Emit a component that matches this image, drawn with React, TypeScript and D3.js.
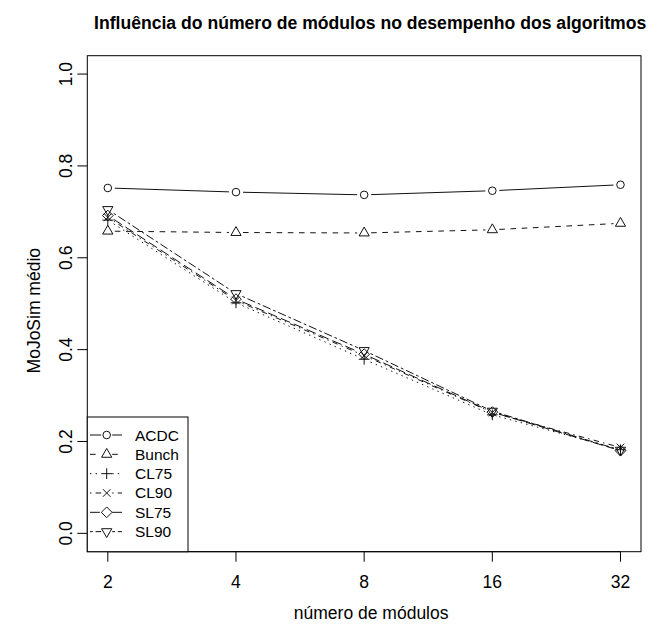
import React from "react";
import * as d3 from "d3";

const modules = [2, 4, 8, 16, 32];
const seriesNames = ["ACDC", "Bunch", "CL75", "CL90", "SL75", "SL90"];
const acdc = [0.752, 0.743, 0.737, 0.746, 0.759];
const bunch = [0.658, 0.655, 0.654, 0.661, 0.675];
const cl75 = [0.682, 0.502, 0.379, 0.258, 0.182];
const cl90 = [0.688, 0.507, 0.387, 0.263, 0.187];
const sl75 = [0.692, 0.510, 0.390, 0.264, 0.180];
const sl90 = [0.705, 0.522, 0.398, 0.266, 0.181];
const yTicks = [0, 0.2, 0.4, 0.6, 0.8, 1.0];
const allValues = [acdc, bunch, cl75, cl90, sl75, sl90];

const W = 657, H = 631;
const L = 87.3, R = 641, T = 55.7, B = 551.7;
const FONT = "'Liberation Sans', Arial, Helvetica, sans-serif";
const S = 1.4;
const dashes = [
  "none",
  [4, 4].map((d) => d * S).join(" "),
  [1, 3].map((d) => d * S).join(" "),
  [1, 3, 4, 3].map((d) => d * S).join(" "),
  [7, 3].map((d) => d * S).join(" "),
  [2, 2, 6, 2].map((d) => d * S).join(" "),
];
const SIZE = 10.1;
const RAD = 0.375 * SIZE;
const INK = "#111";

function marker(i: number, x: number, y: number, key: string) {
  const st = { fill: "none", stroke: INK, strokeWidth: 1 };
  if (i === 0) return <circle key={key} cx={x} cy={y} r={RAD} {...st} />;
  if (i === 1 || i === 5) {
    const r = 1.5551 * RAD;
    const s = i === 1 ? 1 : -1;
    const p = [
      [x, y - s * r],
      [x + (r * Math.sqrt(3)) / 2, y + (s * r) / 2],
      [x - (r * Math.sqrt(3)) / 2, y + (s * r) / 2],
    ];
    return <polygon key={key} points={p.map((q) => q.join(",")).join(" ")} {...st} />;
  }
  if (i === 2) {
    const c = Math.SQRT2 * RAD;
    return <path key={key} d={`M${x - c},${y}H${x + c}M${x},${y - c}V${y + c}`} {...st} />;
  }
  if (i === 3) {
    const c = RAD;
    return <path key={key} d={`M${x - c},${y - c}L${x + c},${y + c}M${x - c},${y + c}L${x + c},${y - c}`} {...st} />;
  }
  const c = Math.SQRT2 * RAD;
  return <polygon key={key} points={`${x},${y - c} ${x + c},${y} ${x},${y + c} ${x - c},${y}`} {...st} />;
}

function gapSeg(x1: number, y1: number, x2: number, y2: number, g: number) {
  const dx = x2 - x1, dy = y2 - y1;
  const len = Math.hypot(dx, dy);
  if (len <= 2 * g) return null;
  const ux = dx / len, uy = dy / len;
  return [x1 + ux * g, y1 + uy * g, x2 - ux * g, y2 - uy * g];
}

export default function App() {
  const x = d3.scaleLog().base(2).domain([Math.pow(2, 0.84), Math.pow(2, 5.16)]).range([L, R]);
  const y = d3.scaleLinear().domain([-0.04, 1.04]).range([B, T]);
  const GAP = 7;
  const legTop = 417, legRight = 188, rowH = 19.33, row0 = 435;

  return (
    <svg width={W} height={H} style={{ position: "absolute", left: 0, top: 0, background: "#fff" }} fontFamily={FONT}>
      <rect x={0} y={0} width={W} height={H} fill="#fff" />
      <text x={(L + R) / 2 + 6} y={29} textAnchor="middle" fontWeight="bold" fontSize={17.6}>
        Influência do número de módulos no desempenho dos algoritmos
      </text>
      {allValues.map((vals, si) => (
        <g key={si}>
          {vals.slice(1).map((v, k) => {
            const seg = gapSeg(x(modules[k]), y(vals[k]), x(modules[k + 1]), y(v), GAP);
            if (!seg) return null;
            return (
              <line key={k} x1={seg[0]} y1={seg[1]} x2={seg[2]} y2={seg[3]} stroke={INK} strokeWidth={1}
                strokeDasharray={dashes[si]} />
            );
          })}
          {vals.map((v, k) => marker(si, x(modules[k]), y(v), `m${si}-${k}`))}
        </g>
      ))}
      <rect x={L} y={T} width={R - L} height={B - T} fill="none" stroke="#000" strokeWidth={1} />
      <line x1={x(modules[0])} x2={x(modules[modules.length - 1])} y1={B} y2={B} stroke="#000" />
      {modules.map((m) => (
        <g key={m}>
          <line x1={x(m)} x2={x(m)} y1={B} y2={B + 10} stroke="#000" />
          <text x={x(m)} y={588} textAnchor="middle" fontSize={17.5}>{m}</text>
        </g>
      ))}
      <text x={(L + R) / 2 + 7} y={619} textAnchor="middle" fontSize={17.5}>número de módulos</text>
      {yTicks.map((t) => (
        <g key={t}>
          <line x1={L - 10} x2={L} y1={y(t)} y2={y(t)} stroke="#000" />
          <text transform={`translate(72,${y(t)}) rotate(-90)`} textAnchor="middle" fontSize={17.5}>{t.toFixed(1)}</text>
        </g>
      ))}
      <text transform={`translate(40,${(T + B) / 2 + 7}) rotate(-90)`} textAnchor="middle" fontSize={17.5}>MoJoSim médio</text>
      <rect x={L} y={legTop} width={legRight - L} height={B - legTop} fill="#fff" stroke="#000" strokeWidth={1} />
      {seriesNames.map((name, i) => {
        const ry = row0 + i * rowH;
        const cx = 106.7;
        return (
          <g key={name}>
            <line x1={90} x2={cx - 5.5} y1={ry} y2={ry} stroke={INK} strokeDasharray={dashes[i]} />
            <line x1={cx + 5.5} x2={122} y1={ry} y2={ry} stroke={INK} strokeDasharray={dashes[i]} />
            {marker(i, cx, ry, `l${i}`)}
            <text x={135} y={ry + 5.5} fontSize={15.5}>{name}</text>
          </g>
        );
      })}
    </svg>
  );
}
